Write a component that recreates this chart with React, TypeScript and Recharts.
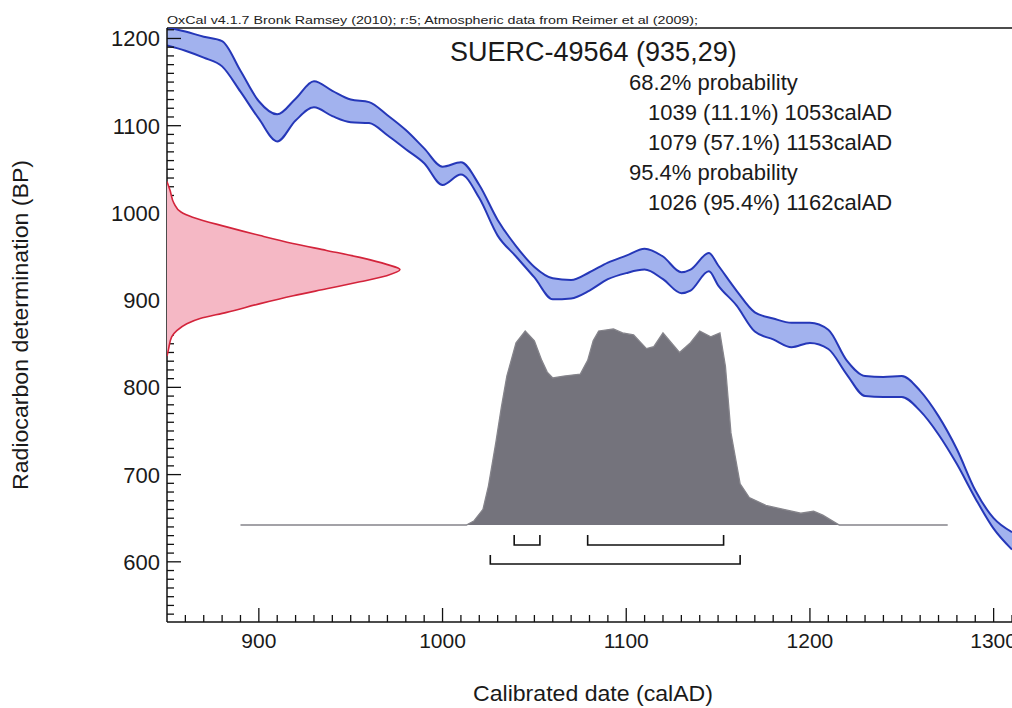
import React from "react";
import {
  ComposedChart,
  Area,
  Line,
  XAxis,
  YAxis,
  ReferenceLine,
} from "recharts";

// calibration curve (IntCal09)
const curveYears = [
  850, 860, 870, 880, 890, 900, 910, 920, 930, 940, 950, 960, 970, 980, 990,
  1000, 1010, 1020, 1030, 1040, 1050, 1060, 1070, 1080, 1090, 1100, 1110,
  1120, 1130, 1135, 1145, 1150, 1160, 1170, 1180, 1190, 1200, 1210, 1220,
  1230, 1240, 1250, 1260, 1270, 1280, 1290, 1300, 1310,
];
const curveUpper = [
  1213, 1208, 1202, 1197, 1163, 1128, 1113, 1131, 1151, 1140, 1130, 1127,
  1112, 1095, 1074, 1053, 1058, 1032, 992, 962, 938, 925, 923, 932, 943, 951,
  959, 950, 932, 935, 954, 940, 911, 886, 879, 874, 874, 866, 831, 813, 812,
  813, 796, 767, 729, 682, 650, 634,
];
const curveLower = [
  1192, 1186, 1178, 1168, 1139, 1108, 1082, 1106, 1121, 1111, 1104, 1103,
  1089, 1073, 1057, 1032, 1044, 1017, 974, 950, 926, 901, 902, 911, 924, 931,
  935, 924, 908, 911, 933, 917, 894, 864, 855, 846, 851, 844, 815, 790, 789,
  789, 773, 746, 712, 673, 638, 614,
];

// calibrated date distribution (relative probability)
const probYears = [
  890, 1013, 1017, 1022, 1025, 1029, 1032, 1035, 1040, 1045, 1050, 1054, 1057,
  1060, 1066, 1075, 1079, 1082, 1085, 1093, 1098, 1104, 1111, 1115, 1120,
  1129, 1135, 1140, 1146, 1151, 1154, 1157, 1162, 1167, 1176, 1195, 1202,
  1207, 1216, 1275,
];
const probValues = [
  0, 0, 0.02, 0.08, 0.2, 0.42, 0.6, 0.76, 0.93, 0.99, 0.94, 0.84, 0.78, 0.75,
  0.76, 0.77, 0.84, 0.94, 0.99, 1.0, 0.98, 0.97, 0.9, 0.91, 0.98, 0.88, 0.93,
  0.99, 0.96, 0.98, 0.81, 0.47, 0.21, 0.14, 0.1, 0.06, 0.07, 0.05, 0, 0,
];

// radiocarbon measurement 935 +/- 29 BP
const rcBP = [
  1036, 1026, 1011, 1001, 995, 984, 974, 965, 957, 949, 941, 935, 928, 921,
  913, 905, 896, 886, 879, 873, 865, 858, 843, 836,
];
const rcDensity = [
  0, 0.013, 0.03, 0.06, 0.11, 0.256, 0.4, 0.54, 0.685, 0.828, 0.943, 1.0,
  0.943, 0.828, 0.685, 0.542, 0.4, 0.256, 0.142, 0.085, 0.042, 0.02, 0.006, 0,
];

const range68 = [
  [1039, 1053],
  [1079, 1153],
];
const range95 = [[1026, 1162]];

const xMajor = [900, 1000, 1100, 1200, 1300];
const yMajor = [600, 700, 800, 900, 1000, 1100, 1200];

const header =
  "OxCal v4.1.7 Bronk Ramsey (2010); r:5; Atmospheric data from Reimer et al (2009);";
const title = "SUERC-49564 (935,29)";
const summary = [
  { text: "68.2% probability", indent: false },
  { text: "1039 (11.1%) 1053calAD", indent: true },
  { text: "1079 (57.1%) 1153calAD", indent: true },
  { text: "95.4% probability", indent: false },
  { text: "1026 (95.4%) 1162calAD", indent: true },
];

const W = 1012;
const H = 708;
const AXIS_W = 100;
const AXIS_H = 50;
const margin = { top: 28, right: 0, bottom: 86 - AXIS_H, left: 167 - AXIS_W };
const overlayMargin = { top: 28, right: 0, bottom: 86, left: 167 };
const FONT = "'Liberation Sans', Arial, sans-serif";

const curveData = curveYears.map((year, i) => ({
  year,
  hi: curveUpper[i],
  lo: curveLower[i],
  band: [curveLower[i], curveUpper[i]],
}));
const probData = probYears.map((year, i) => ({ year, p: probValues[i] }));
const rcData = rcBP.map((bp, i) => ({ bp, d: rcDensity[i] }));

const xTicks: number[] = [];
for (let v = 860; v <= 1310; v += 10) xTicks.push(v);
const yTicks: number[] = [];
for (let v = 540; v <= 1210; v += 10) yTicks.push(v);

const bracket = (r: number[], top: number, lvl: number) => [
  { year: r[0], p: top },
  { year: r[0], p: lvl },
  { year: r[1], p: lvl },
  { year: r[1], p: top },
];

const XTick = (props: any) => {
  const { x, y, payload } = props;
  const major = xMajor.includes(payload.value);
  return (
    <g>
      <line x1={x} y1={y} x2={x} y2={y - (major ? 14 : 7)} stroke="#111" strokeWidth={1.3} />
      {major && (
        <text x={x} y={y + 26} textAnchor="middle" fontSize={21} fontFamily={FONT} fill="#1a1a1a">
          {payload.value}
        </text>
      )}
    </g>
  );
};

const YTick = (props: any) => {
  const { x, y, payload } = props;
  const major = yMajor.includes(payload.value);
  return (
    <g>
      <line x1={x} y1={y} x2={x + (major ? 14 : 7)} y2={y} stroke="#111" strokeWidth={1.3} />
      {major && (
        <text x={x - 7} y={y + 8} textAnchor="end" fontSize={22} fontFamily={FONT} fill="#1a1a1a">
          {payload.value}
        </text>
      )}
    </g>
  );
};

export default function App() {
  return (
    <div style={{ position: "absolute", left: 0, top: 0, width: W, height: H, background: "#fff" }}>
      <div style={{ position: "absolute", left: 0, top: 0 }}>
        <ComposedChart width={W} height={H} margin={margin}>
          <XAxis
            type="number"
            dataKey="year"
            domain={[850, 1310]}
            allowDataOverflow
            ticks={xTicks}
            interval={0}
            tick={<XTick />}
            tickLine={false}
            tickSize={0}
            tickMargin={0}
            height={AXIS_H}
            axisLine={{ stroke: "#111", strokeWidth: 1.5 }}
          />
          <YAxis
            yAxisId="bp"
            type="number"
            domain={[531, 1212]}
            allowDataOverflow
            ticks={yTicks}
            interval={0}
            tick={<YTick />}
            tickLine={false}
            tickSize={0}
            tickMargin={0}
            width={AXIS_W}
            axisLine={{ stroke: "#111", strokeWidth: 1.5 }}
          />
          <YAxis yAxisId="p" type="number" domain={[-0.495, 2.536]} allowDataOverflow hide />
          <ReferenceLine yAxisId="bp" y={1212} stroke="#111" strokeWidth={1.5} />

          <Area
            yAxisId="p"
            data={probData}
            dataKey="p"
            type="linear"
            fill="#74737c"
            fillOpacity={1}
            stroke="#85848b"
            strokeWidth={1.3}
            isAnimationActive={false}
          />
          {range68.map((r, i) => (
            <Line
              key={"r68" + i}
              yAxisId="p"
              data={bracket(r, -0.051, -0.102)}
              dataKey="p"
              type="linear"
              stroke="#111"
              strokeWidth={1.6}
              dot={false}
              activeDot={false}
              isAnimationActive={false}
            />
          ))}
          {range95.map((r, i) => (
            <Line
              key={"r95" + i}
              yAxisId="p"
              data={bracket(r, -0.153, -0.199)}
              dataKey="p"
              type="linear"
              stroke="#111"
              strokeWidth={1.6}
              dot={false}
              activeDot={false}
              isAnimationActive={false}
            />
          ))}

          <Area
            yAxisId="bp"
            data={curveData}
            dataKey="band"
            type="monotone"
            fill="#a2b2ee"
            fillOpacity={1}
            stroke="none"
            isAnimationActive={false}
          />
          <Line
            yAxisId="bp"
            data={curveData}
            dataKey="hi"
            type="monotone"
            stroke="#2537b8"
            strokeWidth={2}
            dot={false}
            activeDot={false}
            isAnimationActive={false}
          />
          <Line
            yAxisId="bp"
            data={curveData}
            dataKey="lo"
            type="monotone"
            stroke="#2537b8"
            strokeWidth={2}
            dot={false}
            activeDot={false}
            isAnimationActive={false}
          />
        </ComposedChart>
      </div>

      <div style={{ position: "absolute", left: 0, top: 0 }}>
        <ComposedChart layout="vertical" width={W} height={H} margin={overlayMargin} data={rcData}>
          <XAxis type="number" domain={[0, 3.627]} allowDataOverflow hide />
          <YAxis type="number" dataKey="bp" domain={[531, 1212]} allowDataOverflow reversed hide />
          <Area
            dataKey="d"
            type="monotone"
            fill="#f5b8c5"
            fillOpacity={1}
            stroke="#d3243b"
            strokeWidth={1.6}
            isAnimationActive={false}
          />
        </ComposedChart>
      </div>

      <svg
        width={W}
        height={H}
        style={{ position: "absolute", left: 0, top: 0, pointerEvents: "none" }}
        fontFamily={FONT}
      >
        <text x={167} y={24} fontSize={11} fill="#222" textLength={531} lengthAdjust="spacingAndGlyphs">
          {header}
        </text>
        <text x={450} y={61} fontSize={27} fill="#1a1a1a">
          {title}
        </text>
        {summary.map((s, i) => (
          <text key={i} x={s.indent ? 648 : 629} y={90 + i * 30} fontSize={22} fill="#1a1a1a">
            {s.text}
          </text>
        ))}
        <text x={593} y={701} fontSize={22} fill="#1a1a1a" textAnchor="middle" textLength={240} lengthAdjust="spacingAndGlyphs">
          Calibrated date (calAD)
        </text>
        <text
          x={0}
          y={0}
          fontSize={22}
          fill="#1a1a1a"
          textAnchor="middle"
          textLength={330}
          lengthAdjust="spacingAndGlyphs"
          transform="translate(28,325) rotate(-90)"
        >
          Radiocarbon determination (BP)
        </text>
      </svg>
    </div>
  );
}
